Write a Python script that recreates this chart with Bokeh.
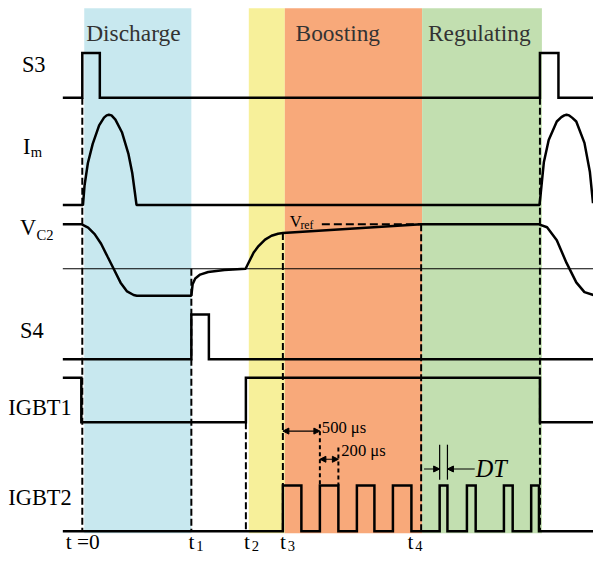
from bokeh.plotting import figure
from bokeh.models import Range1d, Arrow, NormalHead
from bokeh.core.properties import value
from bokeh.embed import file_html
from bokeh.resources import INLINE

# ---------------- data ----------------
T_START, T_END = 64, 609                    # time span drawn
t_marks = [84, 196, 252, 290, 432, 554]    # t=0, t1, t2, t3, t4, end of regulating
t_names = ["t =0", "t", "t", "t", "t", ""]
t_subs = ["", "1", "2", "3", "4", ""]

phase_names = ["Discharge", "", "Boosting", "Regulating"]
phase_start = [86, 255, 292, 433]
phase_end = [196, 292, 433, 556]
phase_colors = ["#c8e8ef", "#f7f09a", "#f8a97a", "#c2dfb0"]

signal_names = ["S3", "I", "V", "S4", "IGBT1", "IGBT2"]
signal_subs = ["", "m", "C2", "", "", ""]

# switching edges (toggle times) of the logic signals
s3_edges = [84, 102, 554, 573]
s4_edges = [196, 214]
igbt1_edges = [83, 252, 554]              # starts high
igbt2_edges = [290, 309, 328, 347, 366, 384, 403, 422,
               451, 459, 479, 488, 517, 526, 545, 553]

# magnetizing current pulses (height above baseline)
im1_t = [84.7, 86.3, 89.7, 94.7, 101.3, 106.3, 109, 111.3, 114, 118, 124.7, 131.3, 135.3, 138, 139.7]
im1_v = [0, 20, 43, 63, 82, 90, 92.3, 93, 92.3, 88, 75, 53, 33, 13, 0]
im2_t = [553.5, 554.7, 558, 563, 571.3, 576, 579, 581.3, 584, 587, 591.3, 599.7, 605.3, 608.5]
im2_v = [0, 11, 44, 67, 86, 90.5, 92.3, 93, 92.3, 90, 86, 64, 34, 2]

# capacitor voltage (height relative to the thin zero line)
vc2_t = [64, 83.5, 90, 96.7, 103.3, 110, 116.7, 123.3, 130, 136.7, 140, 196,
         197.3, 200, 205, 213.3, 230, 251.7, 255, 260, 265, 271.7, 278.3, 285, 290,
         432, 553, 561.3, 571.3, 581.3, 591.3, 599.7, 609]
vc2_v = [45.7, 45.7, 42.3, 35.7, 25.7, 12.3, -1, -14.3, -23.3, -27, -27.7, -27.7,
         -16, -10, -6, -3.3, -1.3, 0, 6.7, 16.7, 23.3, 30, 34, 36, 36.7,
         45.7, 45.7, 42.7, 29.3, 6, -14, -24, -27]
vref_level = 45.7
vref_t = [330, 432]

# annotations of IGBT2 timing
ann_500 = (290, 328)
ann_200 = (328, 347)
dt_edges = (451, 459)

# ---------------- layout (plot units, y downward) ----------------
TOP, BOTTOM = 8, 548
S3_LO, S3_HI = 100, 54
IM_BASE = 210.5
VC2_ZERO = 276
S4_LO, S4_HI = 369, 323
G1_LO, G1_HI = 434, 388
G2_LO, G2_HI = 546, 499

W, H = 593, 555
K = W / 609.0
SERIF = "Liberation Serif"
LW = 2.5


def fs(px):
    return "%.1fpx" % (px * K)


def label(x, y, text, size, color="black", style="normal"):
    p.text(x=x, y=y, text=text, text_font=value(SERIF), text_font_size=fs(size),
           text_color=color, text_font_style=style,
           text_align="left", text_baseline="middle")


def step_wave(edges, lo, hi, start_high=False):
    state = start_high
    xs, ys = [T_START], [hi if state else lo]
    for e in edges:
        cur = hi if state else lo
        state = not state
        nxt = hi if state else lo
        xs += [e, e]
        ys += [cur, nxt]
    xs.append(T_END)
    ys.append(hi if state else lo)
    return xs, ys


p = figure(width=W, height=H, output_backend="svg", toolbar_location=None,
           x_range=Range1d(0, 609), y_range=Range1d(571, 0),
           min_border=0, outline_line_color=None, background_fill_color="white")
p.axis.visible = False
p.grid.visible = False

# phase backgrounds
p.quad(left=phase_start, right=phase_end, top=[TOP] * 4, bottom=[BOTTOM] * 4,
       fill_color=phase_colors, line_color=None)

# phase titles
label([88, 303, 439], [33, 33, 33], [n for n in phase_names if n], 24, "#333333")

# thin zero line for VC2
p.line([T_START, T_END], [VC2_ZERO, VC2_ZERO], line_color="black", line_width=1.2)

# dashed time markers
dash_top = [S3_LO, VC2_ZERO, G1_LO, VC2_ZERO - 36.7, VC2_ZERO - 45.7, S3_LO]
p.segment(x0=t_marks, x1=t_marks, y0=dash_top, y1=[G2_LO] * 6,
          line_color="black", line_width=2, line_dash="7 3")

# logic waveforms
for edges, lo, hi, sh in [(s3_edges, S3_LO, S3_HI, False),
                          (s4_edges, S4_LO, S4_HI, False),
                          (igbt1_edges, G1_LO, G1_HI, True),
                          (igbt2_edges, G2_LO, G2_HI, False)]:
    xs, ys = step_wave(edges, lo, hi, sh)
    p.line(xs, ys, line_color="black", line_width=LW, line_join="miter")

# Im
im_x = [T_START] + im1_t + im2_t
im_y = [IM_BASE] + [IM_BASE - v for v in im1_v] + [IM_BASE - v for v in im2_v]
p.line(im_x, im_y, line_color="black", line_width=LW)

# VC2
p.line(vc2_t, [VC2_ZERO - v for v in vc2_v], line_color="black", line_width=LW)
p.line(vref_t, [VC2_ZERO - vref_level] * 2, line_color="black", line_width=2,
       line_dash="8 4")

# signal labels
label([22, 23, 20, 20, 8, 8], [65.5, 150, 233.5, 339.5, 419, 511], signal_names, 23)
label([31, 37], [155.5, 241], [s for s in signal_subs if s], 15)

# time labels
label([67, 193, 250, 287, 418], [557] * 5, t_names[:5], 22)
label([201, 258, 295, 426], [561.5] * 4, t_subs[1:5], 15)

# Vref label
label([297], [227.5], ["V"], 17)
label([308], [231], ["ref"], 12)

# 500 us / 200 us annotation
p.segment(x0=[ann_500[1], ann_200[1]], x1=[ann_500[1], ann_200[1]], y0=[436, 460],
          y1=[G2_HI, G2_HI], line_color="black", line_width=2, line_dash="4 3")
for (a, b), yy in [(ann_500, 443), (ann_200, 472)]:
    p.add_layout(Arrow(x_start=a, x_end=b, y_start=yy, y_end=yy, line_width=1.2,
                       start=NormalHead(size=6, fill_color="black", line_color="black"),
                       end=NormalHead(size=6, fill_color="black", line_color="black")))
label([330, 350], [439, 462.5], ["500 μs", "200 μs"], 17)

# dead time annotation
p.segment(x0=list(dt_edges), x1=list(dt_edges), y0=[457, 457], y1=[493, 493],
          line_color="black", line_width=1.2)
p.add_layout(Arrow(x_start=435, x_end=dt_edges[0], y_start=482, y_end=482, line_width=1.2,
                   end=NormalHead(size=6, fill_color="black", line_color="black")))
p.add_layout(Arrow(x_start=487, x_end=dt_edges[1], y_start=482, y_end=482, line_width=1.2,
                   end=NormalHead(size=6, fill_color="black", line_color="black")))
label([488], [481.5], ["DT"], 25, style="italic")

open("out.html", "w").write(file_html(p, INLINE))
